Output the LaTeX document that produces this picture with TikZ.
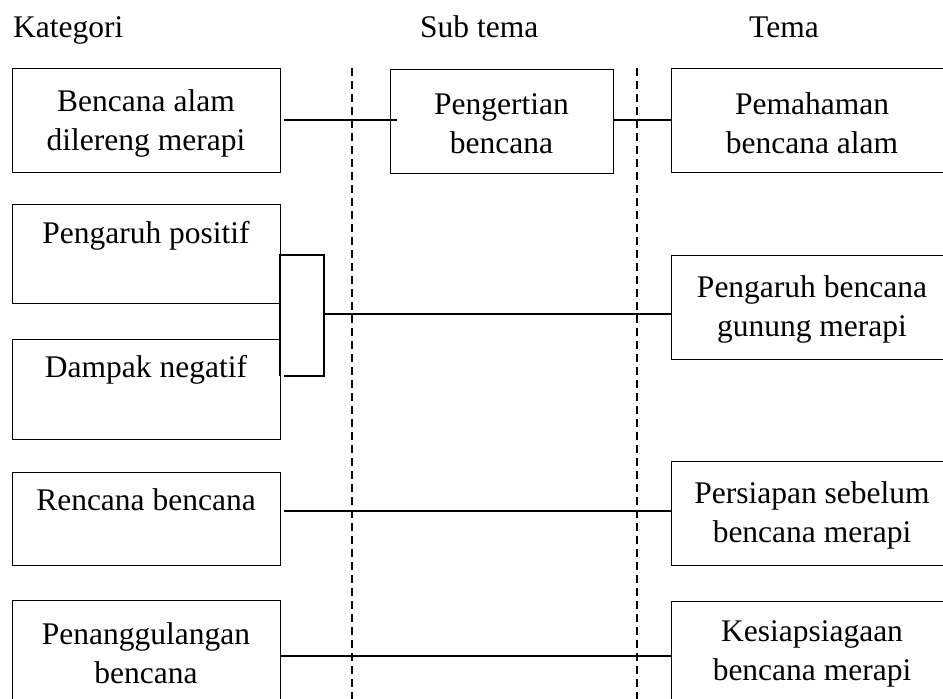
\documentclass[tikz,border=0pt]{standalone}
\usepackage{fontspec}
\setmainfont{Liberation Serif}
\begin{document}
\begin{tikzpicture}[x=1pt,y=-1pt,
  txt/.style={font=\fontsize{31.5}{39}\selectfont},
  kbox/.style={txt,draw,line width=1pt,inner sep=0pt,align=center,minimum width=268pt,minimum height=104pt},
  sbox/.style={kbox,minimum width=223pt},
  tbox/.style={kbox,minimum width=282pt},
  ltxt/.style={txt,anchor=base,inner sep=0pt},
  conn/.style={line width=1.6pt},
  sep/.style={line width=1.2pt,dash pattern=on 8pt off 5pt}]
\useasboundingbox (0,0) rectangle (943,699);
\clip (0,0) rectangle (943,699);
% headers
\node[txt,anchor=base west,inner sep=0pt] (h1) at (13,37) {Kategori};
\node[txt,anchor=base west,inner sep=0pt] (h2) at (420,37) {Sub tema};
\node[txt,anchor=base west,inner sep=0pt] (h3) at (749,37) {Tema};
% separators
\coordinate (d1a) at (352,68); \coordinate (d1b) at (352,700);
\coordinate (d2a) at (637,68); \coordinate (d2b) at (637,700);
\draw[sep] (d1a) -- (d1b);
\draw[sep] (d2a) -- (d2b);
% boxes
\node[kbox] (k1) at (146,120) {};
\node[txt,align=center] (k1t) at (146,123) {Bencana alam\\dilereng merapi};
\node[sbox] (s1) at (501.5,121) {};
\node[txt,align=center] (s1t) at (501.5,124) {Pengertian\\bencana};
\node[tbox] (t1) at (812,120) {};
\node[txt,align=center] (t1t) at (812,123) {Pemahaman\\bencana alam};
\node[kbox,minimum height=99pt] (k2) at (146,253.5) {};
\node[ltxt] (k2t) at ([yshift=-40pt]k2.north) {Pengaruh positif};
\node[kbox,minimum height=100pt] (k3) at (146,389) {};
\node[ltxt] (k3t) at ([yshift=-39pt]k3.north) {Dampak negatif};
\node[tbox] (t2) at (812,307) {};
\node[txt,align=center] (t2t) at (812,309) {Pengaruh bencana\\gunung merapi};
\node[kbox,minimum height=93pt] (k4) at (146,518.5) {};
\node[ltxt] (k4t) at ([yshift=-39pt]k4.north) {Rencana bencana};
\node[tbox] (t3) at (812,513) {};
\node[txt,align=center] (t3t) at (812,515) {Persiapan sebelum\\bencana merapi};
\node[kbox] (k5) at (146,652) {};
\node[txt,align=center] (k5t) at (146,653) {Penanggulangan\\bencana};
\node[tbox] (t4) at (812,653) {};
\node[txt,align=center] (t4t) at (812,654) {Kesiapsiagaan\\bencana merapi};
% connectors
\coordinate (c1) at (284,120);
\coordinate (c2) at (397,120);
\draw[conn] (c1) -- (c2);
\draw[conn] (s1.east |- c1) -- (t1.west |- c1);
\coordinate (b1) at (280,255);
\coordinate (b2) at (324,255);
\coordinate (b3) at (324,376);
\coordinate (b4) at (280,376);
\coordinate (b5) at (284,376);
\coordinate (bm) at (324,314);
\draw[conn] (b4) -- (b1) -- (b2) -- (b3) -- (b5);
\draw[conn] (bm) -- (t2.west |- bm);
\coordinate (r1) at (284,511);
\draw[conn] (r1) -- (t3.west |- r1);
\coordinate (p1) at (280,656);
\draw[conn] (p1) -- (t4.west |- p1);
\end{tikzpicture}
\end{document}
